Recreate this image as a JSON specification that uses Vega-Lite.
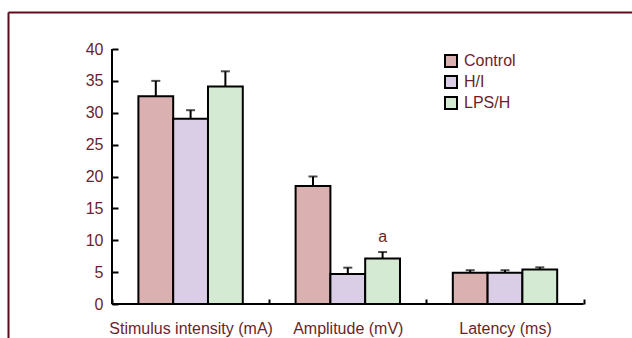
{
  "$schema": "https://vega.github.io/schema/vega-lite/v6.json",
  "width": 624,
  "height": 326,
  "autosize": {"type": "none"},
  "padding": {"left": 8, "top": 12, "right": 0, "bottom": 0},
  "background": "white",
  "config": {"view": {"stroke": null}, "font": "Liberation Sans"},
  "data": {
    "values": [
      {"measure": "Stimulus intensity (mA)", "group": "Control", "value": 32.6, "err": 35.0},
      {"measure": "Stimulus intensity (mA)", "group": "H/I", "value": 29.05, "err": 30.4},
      {"measure": "Stimulus intensity (mA)", "group": "LPS/H", "value": 34.1, "err": 36.5},
      {"measure": "Amplitude (mV)", "group": "Control", "value": 18.5, "err": 20.0},
      {"measure": "Amplitude (mV)", "group": "H/I", "value": 4.7, "err": 5.7},
      {"measure": "Amplitude (mV)", "group": "LPS/H", "value": 7.15, "err": 8.15, "note": "a"},
      {"measure": "Latency (ms)", "group": "Control", "value": 4.9, "err": 5.3},
      {"measure": "Latency (ms)", "group": "H/I", "value": 4.9, "err": 5.3},
      {"measure": "Latency (ms)", "group": "LPS/H", "value": 5.4, "err": 5.75}
    ]
  },
  "resolve": {"axis": {"x": "independent", "y": "independent"}},
  "layer": [
    {
      "mark": {"type": "bar", "stroke": "black", "strokeWidth": 2},
      "encoding": {
        "x": {
          "field": "measure", "type": "nominal",
          "scale": {"domain": ["Stimulus intensity (mA)", "Amplitude (mV)", "Latency (ms)"], "paddingInner": 0, "paddingOuter": 0.4847, "align": 0.6824},
          "axis": {"orient": "bottom", "offset": -34, "domain": false, "ticks": true, "tickBand": "extent", "tickSize": -5, "tickWidth": 2, "tickColor": "black", "labelPadding": 21, "labelFontSize": 16, "labelColor": "#6b1f2a", "labelAngle": 0, "title": null, "grid": false}
        },
        "xOffset": {"field": "group", "type": "nominal", "scale": {"paddingInner": 0, "paddingOuter": 0.759}},
        "y": {
          "field": "value", "type": "quantitative",
          "scale": {"domain": [-5.333, 45.804], "nice": false},
          "axis": {"orient": "left", "offset": -104, "domain": false, "values": [0, 5, 10, 15, 20, 25, 30, 35, 40], "tickSize": -6, "tickWidth": 2, "tickColor": "black", "labelPadding": 15, "labelFontSize": 16, "labelColor": "#6b1f2a", "title": null, "grid": false}
        },
        "y2": {"datum": 0},
        "color": {
          "field": "group", "type": "nominal",
          "scale": {"domain": ["Control", "H/I", "LPS/H"], "range": ["#dbb0b0", "#d9cee6", "#d4ead2"]},
          "legend": {"orient": "none", "legendX": 435, "legendY": 41, "padding": 0, "title": null, "symbolType": "square", "symbolSize": 144, "symbolStrokeColor": "black", "symbolStrokeWidth": 2, "symbolOpacity": 1, "labelFontSize": 16, "labelColor": "#6b1f2a", "labelOffset": 5, "rowPadding": 1}
        }
      }
    },
    {
      "mark": {"type": "rule", "strokeWidth": 2, "color": "black"},
      "encoding": {
        "x": {"field": "measure", "type": "nominal", "scale": {"domain": ["Stimulus intensity (mA)", "Amplitude (mV)", "Latency (ms)"], "paddingInner": 0, "paddingOuter": 0.4847, "align": 0.6824}, "axis": null},
        "xOffset": {"field": "group", "type": "nominal", "scale": {"paddingInner": 0, "paddingOuter": 0.759}},
        "y": {"field": "value", "type": "quantitative", "axis": null},
        "y2": {"field": "err"}
      }
    },
    {
      "mark": {"type": "tick", "orient": "horizontal", "size": 9, "thickness": 2, "color": "black"},
      "encoding": {
        "x": {"field": "measure", "type": "nominal", "scale": {"domain": ["Stimulus intensity (mA)", "Amplitude (mV)", "Latency (ms)"], "paddingInner": 0, "paddingOuter": 0.4847, "align": 0.6824}, "axis": null},
        "xOffset": {"field": "group", "type": "nominal", "scale": {"paddingInner": 0, "paddingOuter": 0.759}},
        "y": {"field": "err", "type": "quantitative", "axis": null}
      }
    },
    {
      "transform": [{"filter": "datum.note"}],
      "mark": {"type": "text", "baseline": "middle", "dy": -15, "fontSize": 16, "color": "#6b1f2a"},
      "encoding": {
        "x": {"field": "measure", "type": "nominal", "scale": {"domain": ["Stimulus intensity (mA)", "Amplitude (mV)", "Latency (ms)"], "paddingInner": 0, "paddingOuter": 0.4847, "align": 0.6824}, "axis": null},
        "xOffset": {"field": "group", "type": "nominal", "scale": {"paddingInner": 0, "paddingOuter": 0.759}},
        "y": {"field": "err", "type": "quantitative", "axis": null},
        "text": {"field": "note"}
      }
    },
    {
      "data": {"values": [{}]},
      "mark": {"type": "rule", "strokeWidth": 2, "color": "black"},
      "encoding": {
        "x": {"datum": "Stimulus intensity (mA)", "type": "nominal", "bandPosition": 0, "scale": {"domain": ["Stimulus intensity (mA)", "Amplitude (mV)", "Latency (ms)"], "paddingInner": 0, "paddingOuter": 0.4847, "align": 0.6824}, "axis": {"orient": "top", "offset": 0, "domain": true, "domainColor": "#5a0e1c", "domainWidth": 2, "ticks": false, "labels": false, "title": null, "grid": false}},
        "y": {"datum": 0, "type": "quantitative", "axis": {"orient": "left", "offset": 0, "domain": true, "domainColor": "#5a0e1c", "domainWidth": 2, "ticks": false, "labels": false, "title": null, "grid": false}},
        "y2": {"datum": 40}
      }
    },
    {
      "data": {"values": [{}]},
      "mark": {"type": "rule", "strokeWidth": 2, "color": "black"},
      "encoding": {
        "x": {"datum": "Stimulus intensity (mA)", "type": "nominal", "bandPosition": 0, "scale": {"domain": ["Stimulus intensity (mA)", "Amplitude (mV)", "Latency (ms)"], "paddingInner": 0, "paddingOuter": 0.4847, "align": 0.6824}, "axis": null},
        "x2": {"datum": "Latency (ms)", "bandPosition": 1},
        "y": {"datum": 0, "type": "quantitative", "axis": null}
      }
    }
  ]
}
